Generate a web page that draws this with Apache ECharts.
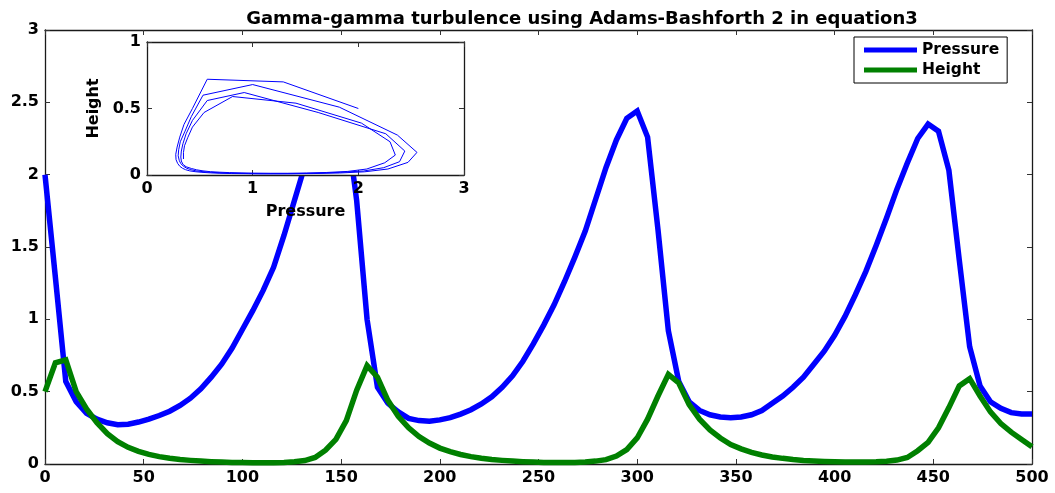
<!DOCTYPE html>
<html>
<head>
<meta charset="utf-8">
<script src="https://cdn.jsdelivr.net/npm/echarts@6/dist/echarts.min.js"></script>
<style>
  html, body { margin: 0; padding: 0; background: #fff; }
  #chart { width: 1055px; height: 493px; }
</style>
</head>
<body>
<div id="chart"></div>
<script>
// samples, step 500/95
var tEnd = 500;
var steps = 95;

var pressure = [
  2.00, 1.29, 0.57, 0.43, 0.35, 0.31, 0.285, 0.272, 0.275, 0.29,
  0.31, 0.335, 0.365, 0.405, 0.455, 0.52, 0.60, 0.69, 0.80, 0.93,
  1.06, 1.20, 1.36, 1.58, 1.82, 2.06, 2.28, 2.47, 2.555, 2.37,
  1.82, 1.00, 0.53, 0.42, 0.36, 0.315, 0.30, 0.295, 0.305, 0.32,
  0.345, 0.375, 0.415, 0.465, 0.53, 0.61, 0.71, 0.83, 0.96, 1.10,
  1.26, 1.43, 1.61, 1.83, 2.05, 2.24, 2.39, 2.44, 2.26, 1.62,
  0.92, 0.57, 0.43, 0.37, 0.34, 0.325, 0.32, 0.325, 0.34, 0.37,
  0.42, 0.47, 0.53, 0.60, 0.69, 0.78, 0.89, 1.02, 1.17, 1.33,
  1.51, 1.70, 1.90, 2.08, 2.25, 2.35, 2.30, 2.03, 1.41, 0.81,
  0.54, 0.43, 0.385, 0.355, 0.345, 0.345
];

var height = [
  0.50, 0.70, 0.72, 0.50, 0.38, 0.285, 0.21, 0.155, 0.115, 0.087,
  0.066, 0.051, 0.040, 0.031, 0.025, 0.020, 0.016, 0.013, 0.011, 0.010,
  0.009, 0.009, 0.009, 0.011, 0.015, 0.024, 0.045, 0.095, 0.17, 0.30,
  0.51, 0.68, 0.60, 0.44, 0.33, 0.25, 0.19, 0.145, 0.11, 0.085,
  0.066, 0.051, 0.040, 0.031, 0.025, 0.020, 0.016, 0.013, 0.011, 0.010,
  0.010, 0.011, 0.014, 0.020, 0.030, 0.055, 0.10, 0.18, 0.31, 0.47,
  0.62, 0.56, 0.41, 0.31, 0.235, 0.18, 0.135, 0.105, 0.080, 0.062,
  0.049, 0.039, 0.031, 0.025, 0.021, 0.018, 0.016, 0.014, 0.013, 0.013,
  0.015, 0.019, 0.027, 0.045, 0.092, 0.15, 0.25, 0.39, 0.54, 0.59,
  0.47, 0.36, 0.28, 0.22, 0.17, 0.12
];

var titleText = 'Gamma-gamma turbulence using Adams-Bashforth 2 in equation3';
var mainXTicks = { min: 0, max: 500, interval: 50 };
var mainYTicks = { min: 0, max: 3, interval: 0.5 };
var insetXTicks = { min: 0, max: 3, interval: 1 };
var insetYTicks = { min: 0, max: 1, interval: 0.5 };

var time = pressure.map(function (_, i) { return i * tEnd / steps; });

var font = 'DejaVu Sans';

function axis(ticks, opts) {
  var a = {
    type: 'value',
    min: ticks.min,
    max: ticks.max,
    interval: ticks.interval,
    splitLine: { show: false },
    axisLine: { show: true, onZero: false, lineStyle: { color: '#1a1a1a', width: 1.3 } },
    axisTick: { show: true, inside: true, length: 5, lineStyle: { color: '#333', width: 1 } },
    axisLabel: {
      show: true, color: '#000', fontFamily: font, fontWeight: 'bold', fontSize: 16, margin: 6
    }
  };
  for (var k in opts) a[k] = opts[k];
  return a;
}

var chart = echarts.init(document.getElementById('chart'), null, { renderer: 'canvas' });

chart.setOption({
  animation: false,
  backgroundColor: '#fff',
  title: {
    text: titleText,
    left: 577,
    textAlign: 'center',
    top: 5,
    textStyle: { fontFamily: font, fontWeight: 'bold', fontSize: 18, color: '#000' }
  },
  legend: {
    data: ['Pressure', 'Height'],
    left: 854,
    top: 37,
    orient: 'vertical',
    icon: 'rect',
    itemWidth: 53,
    itemHeight: 5,
    itemGap: 4,
    padding: [5, 8, 5, 10],
    borderColor: '#000',
    borderWidth: 1,
    backgroundColor: '#fff',
    textStyle: { fontFamily: font, fontWeight: 'bold', fontSize: 15.5, color: '#000' }
  },
  grid: [
    { left: 45, top: 30, right: 23, bottom: 29 },
    { left: 147, top: 42, width: 317, height: 133, show: true, backgroundColor: '#fff', borderWidth: 0, z: 10 }
  ],
  xAxis: [
    axis(mainXTicks, { gridIndex: 0, position: 'bottom' }),
    axis(mainXTicks, { gridIndex: 0, position: 'top', axisLabel: { show: false } }),
    axis(insetXTicks, {
      gridIndex: 1, position: 'bottom', z: 11,
      name: 'Pressure', nameLocation: 'middle', nameGap: 29,
      nameTextStyle: { fontFamily: font, fontWeight: 'bold', fontSize: 16, color: '#000' }
    }),
    axis(insetXTicks, { gridIndex: 1, position: 'top', z: 11, axisLabel: { show: false } })
  ],
  yAxis: [
    axis(mainYTicks, { gridIndex: 0, position: 'left' }),
    axis(mainYTicks, { gridIndex: 0, position: 'right', axisLabel: { show: false } }),
    axis(insetYTicks, {
      gridIndex: 1, position: 'left', z: 11,
      name: 'Height', nameLocation: 'middle', nameGap: 45, nameRotate: 90,
      nameTextStyle: { fontFamily: font, fontWeight: 'bold', fontSize: 16, color: '#000' }
    }),
    axis(insetYTicks, { gridIndex: 1, position: 'right', z: 11, axisLabel: { show: false } })
  ],
  series: [
    {
      name: 'Pressure', type: 'line', xAxisIndex: 0, yAxisIndex: 0,
      data: time.map(function (t, i) { return [t, pressure[i]]; }),
      showSymbol: false, color: '#0000ff',
      lineStyle: { color: '#0000ff', width: 5.5, join: 'miter' }, z: 2
    },
    {
      name: 'Height', type: 'line', xAxisIndex: 0, yAxisIndex: 0,
      data: time.map(function (t, i) { return [t, height[i]]; }),
      showSymbol: false, color: '#008000',
      lineStyle: { color: '#008000', width: 5.5, join: 'miter' }, z: 2
    },
    {
      name: 'phase', type: 'line', xAxisIndex: 2, yAxisIndex: 2,
      data: pressure.map(function (p, i) { return [p, height[i]]; }),
      showSymbol: false, color: '#0000ff',
      lineStyle: { color: '#0000ff', width: 1 }, z: 12
    }
  ]
});
</script>
</body>
</html>
